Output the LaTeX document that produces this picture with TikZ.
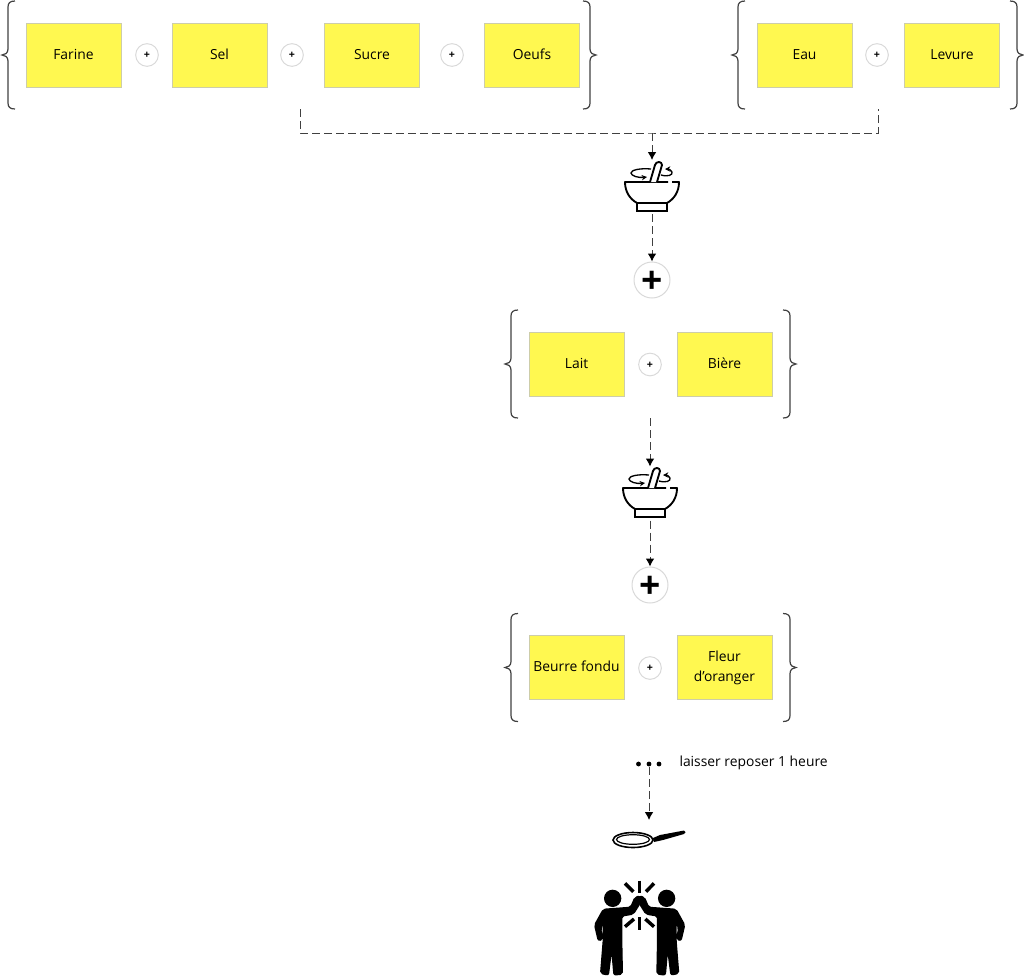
\documentclass[tikz,border=0pt]{standalone}
\usepackage{fontspec}
\setmainfont{Open Sans}
\usetikzlibrary{arrows.meta}

\definecolor{postit}{RGB}{255,248,80}
\definecolor{postitline}{RGB}{205,205,170}
\definecolor{ringline}{RGB}{217,217,217}
\definecolor{braceline}{RGB}{64,64,64}

\tikzset{every picture/.style={line width=0.75pt},
  ingredient/.style={draw=postitline,fill=postit,minimum width=71.25pt,minimum height=48pt,inner sep=0pt,align=center,font=\fontsize{10.4}{15}\selectfont},
  oneline/.style={text height=8.2pt,text depth=1.8pt},
  smallplus/.style={circle,draw=ringline,fill=white,minimum size=17pt,inner sep=0pt,font=\fontsize{8}{8}\selectfont\bfseries,text height=5.6pt,text depth=0pt},
  bigplus/.style={circle,draw=ringline,fill=white,minimum size=27pt,inner sep=0pt,font=\fontsize{28}{28}\selectfont\bfseries,text height=19.6pt,text depth=0pt},
  iconbox/.style={minimum width=40pt,minimum height=40.5pt,inner sep=0pt,outer sep=0pt},
  dot/.style={circle,fill=black,minimum size=3.6pt,inner sep=0pt},
  flow/.style={braceline,dash pattern=on 6pt off 3pt,line width=0.75pt},
  flowarrow/.style={flow,-{Latex[length=6pt,width=6.5pt,black]}},
  curly/.pic={
    \draw [braceline,line width=0.9pt] (7,-54) .. controls (2,-54) and (0,-52) .. (0,-48) -- (0,-6) .. controls (0,-2) and (-3,0) .. (-6,0) .. controls (-3,0) and (0,2) .. (0,6) -- (0,48) .. controls (0,52) and (2,54) .. (7,54);
  },
  bowlicon/.pic={
    \draw [line width=1.4pt,line join=round] (16,-4) -- (-27,-4) .. controls (-27,6) and (-22,13) .. (-15,17) -- (15,17) .. controls (22,13) and (27,6) .. (27,-4) -- (20,-4);
    \draw [line width=1.4pt] (-15,17) rectangle (15,25);
    \draw [line width=1.4pt,line join=round,fill=white] (-2,-4) -- (3,-21) .. controls (4,-25) and (10,-25) .. (10,-21) -- (5,-4);
    \draw [line width=1pt,-{Stealth[length=4pt,width=4pt]}] (-1,-17) .. controls (-12,-18) and (-21,-16) .. (-21,-13) .. controls (-21,-10) and (-13,-8) .. (-5,-9);
    \draw [line width=1pt,-{Stealth[length=4pt,width=4pt]}] (9,-11) .. controls (16,-9) and (21,-11) .. (20,-14) .. controls (19,-16) and (17,-17) .. (13,-17);
  },
  cheerman/.pic={
    \fill (68,235) circle (26);
    \filldraw [line width=1pt,line join=round,rounded corners=1.5pt] (150,228) -- (150,250) -- (130,282) -- (95,288) -- (95,360) -- (97,462) -- (72,465) -- (65,385) -- (55,465) -- (32,460) -- (40,360) -- (40,305) -- (32,325) -- (38,358) -- (25,362) -- (14,315) -- (40,268) -- (122,262) -- (135,232) -- cycle;
  }
}

\begin{document}
\begin{tikzpicture}[x=0.75pt,y=0.75pt,yscale=-1,xscale=1]
\useasboundingbox (0,0) rectangle (1024,976);

% Text Node
\draw (73.5,55) node (farine) [ingredient,oneline] {Farine};
\draw (219.5,55) node (sel) [ingredient,oneline] {Sel};
\draw (372,55) node (sucre) [ingredient,oneline] {Sucre};
\draw (532,55) node (oeufs) [ingredient,oneline] {Oeufs};
\draw (804.5,55) node (eau) [ingredient,oneline] {Eau};
\draw (952,55) node (levure) [ingredient,oneline] {Levure};
\draw (576.5,364) node (lait) [ingredient,oneline] {Lait};
\draw (724.5,364) node (biere) [ingredient,oneline] {Bière};
\draw (576.5,667.5) node (beurre) [ingredient,oneline] {Beurre fondu};
\draw (724.5,667.5) node (fleur) [ingredient] {Fleur\\d’oranger};
\draw (679,766.5) node (repos) [anchor=base west,inner sep=0pt,font=\fontsize{10.4}{12}\selectfont] {laisser reposer 1 heure};

% Plus signs
\draw (147,55) node (plusa) [smallplus] {+};
\draw (292,55) node (plusb) [smallplus] {+};
\draw (452,55) node (plusc) [smallplus] {+};
\draw (877,55) node (plusd) [smallplus] {+};
\draw (650,364.5) node (pluse) [smallplus] {+};
\draw (650,668) node (plusf) [smallplus] {+};
\draw (652,280) node (addfirst) [bigplus] {+};
\draw (650,585) node (addsecond) [bigplus] {+};

% Braces
\path (8,55) pic {curly};
\path (590,55) pic [xscale=-1] {curly};
\path (738,55) pic {curly};
\path (1017,55) pic [xscale=-1] {curly};
\path (511,364) pic {curly};
\path (790,364) pic [xscale=-1] {curly};
\path (511,667.5) pic {curly};
\path (790,667.5) pic [xscale=-1] {curly};

% Bowls
\draw (652,187) node (bowlfirst) [iconbox] {};
\path (652,186) pic [yscale=-1] {bowlicon};
\draw (650,493.5) node (bowlsecond) [iconbox] {};
\path (650,492) pic [yscale=-1] {bowlicon};

% Three dots
\draw (638.5,764) node (dotleft) [dot] {};
\draw (649,764) node (dotmid) [dot] {};
\draw (659,764) node (dotright) [dot] {};

% Pan
\coordinate (panin) at (649,820);
\draw [line width=1.2pt] (633,840) ellipse (20 and 7.5);
\draw [line width=0.9pt] (633,839.5) ellipse (16.5 and 4.8);
\fill (653,838) -- (660,835) -- (684,830.5) .. controls (686,831.5) and (686,833) .. (684,834) -- (663,840) -- (654,842) -- cycle;

% Connectors
\coordinate (joinleft) at (300,109);
\coordinate (joinright) at (878,109);
\coordinate (joinmid) at (652,133);
\coordinate (lowerlait) at (650,418);
\draw [flow] (joinleft) |- (joinmid) -| (joinright);
\draw [flowarrow] (joinmid) -- (bowlfirst);
\draw [flowarrow] (bowlfirst) -- (addfirst);
\draw [flowarrow] (lowerlait) -- (bowlsecond);
\draw [flowarrow] (bowlsecond) -- (addsecond);
\draw [flowarrow] (dotmid) -- (panin);

% Two people
\path (590,820) pic [xscale=1/3,yscale=-1/3] {cheerman};
\path (689.3,820) pic [xscale=-1/3,yscale=-1/3] {cheerman};
\begin{scope}[shift={(590,820)},scale=1/3,line width=2.6pt]
\draw (149,182) -- (149,218);
\draw (105,190) -- (130,215);
\draw (192,190) -- (168,215);
\draw (105,320) -- (132,297);
\draw (149,292) -- (149,330);
\draw (192,320) -- (166,297);
\end{scope}

\end{tikzpicture}
\end{document}
